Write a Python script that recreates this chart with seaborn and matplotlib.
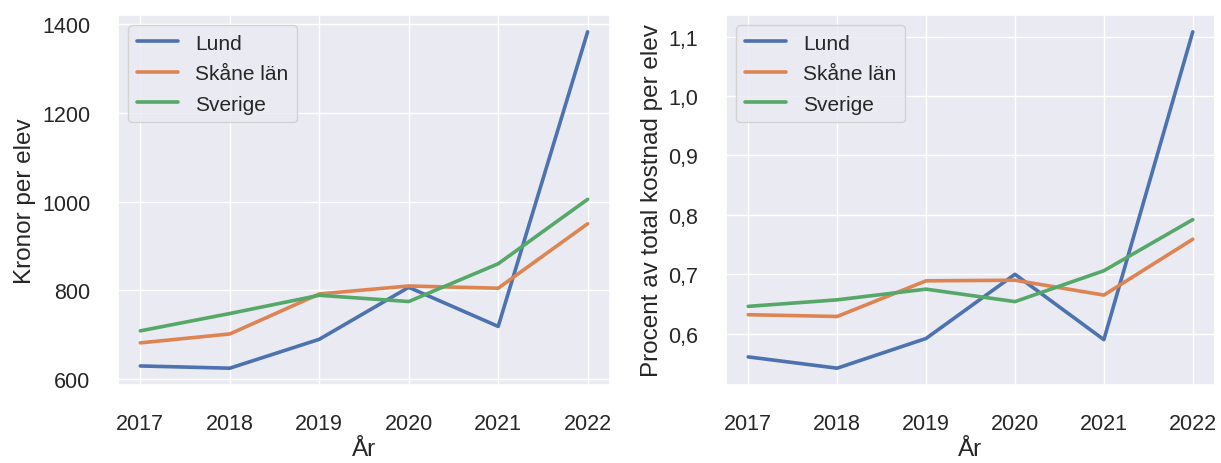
import pandas as pd
import seaborn as sns
import matplotlib.pyplot as plt
from matplotlib.ticker import MultipleLocator, FuncFormatter

years = [2017, 2018, 2019, 2020, 2021, 2022]
regions = ["Lund", "Skåne län", "Sverige"]

# kronor per elev
kronor_lund = [630, 625, 690, 807, 719, 1382]
kronor_skane = [682, 702, 792, 810, 805, 950]
kronor_sverige = [709, 748, 789, 775, 860, 1005]

# procent av total kostnad per elev
procent_lund = [0.561, 0.542, 0.592, 0.700, 0.590, 1.108]
procent_skane = [0.632, 0.629, 0.689, 0.690, 0.665, 0.759]
procent_sverige = [0.646, 0.657, 0.675, 0.654, 0.706, 0.792]

def long_table(lund, skane, sverige):
    rows = []
    for name, vals in zip(regions, [lund, skane, sverige]):
        for y, v in zip(years, vals):
            rows.append({"År": y, "Region": name, "Värde": v})
    return pd.DataFrame(rows)

df_kr = long_table(kronor_lund, kronor_skane, kronor_sverige)
df_pr = long_table(procent_lund, procent_skane, procent_sverige)

sns.set_theme(style="darkgrid")
plt.rcParams["font.family"] = ["Liberation Sans", "DejaVu Sans"]

fig = plt.figure(figsize=(12.21, 4.64), dpi=100)
ax1 = fig.add_axes([118 / 1221, 78 / 464, 492 / 1221, 370 / 464])
ax2 = fig.add_axes([726 / 1221, 78 / 464, 489 / 1221, 370 / 464])

sns.lineplot(data=df_kr, x="År", y="Värde", hue="Region", ax=ax1, linewidth=2.6)
sns.lineplot(data=df_pr, x="År", y="Värde", hue="Region", ax=ax2, linewidth=2.6)

ax1.set_ylabel("Kronor per elev", fontsize=17.5)
ax2.set_ylabel("Procent av total kostnad per elev", fontsize=17.5)
ax1.yaxis.set_major_locator(MultipleLocator(200))
ax2.yaxis.set_major_locator(MultipleLocator(0.1))
ax2.yaxis.set_major_formatter(FuncFormatter(lambda v, p: f"{v:.1f}".replace(".", ",")))

for ax in (ax1, ax2):
    ax.set_xlabel("År", fontsize=17.5, labelpad=3)
    ax.set_xticks(years)
    ax.tick_params(axis="x", pad=14, labelsize=15.5)
    ax.tick_params(axis="y", pad=14, labelsize=15.5)
    ax.legend(loc="upper left", title=None, fontsize=15, labelspacing=0.55)

fig.savefig("out.png", dpi=100)
